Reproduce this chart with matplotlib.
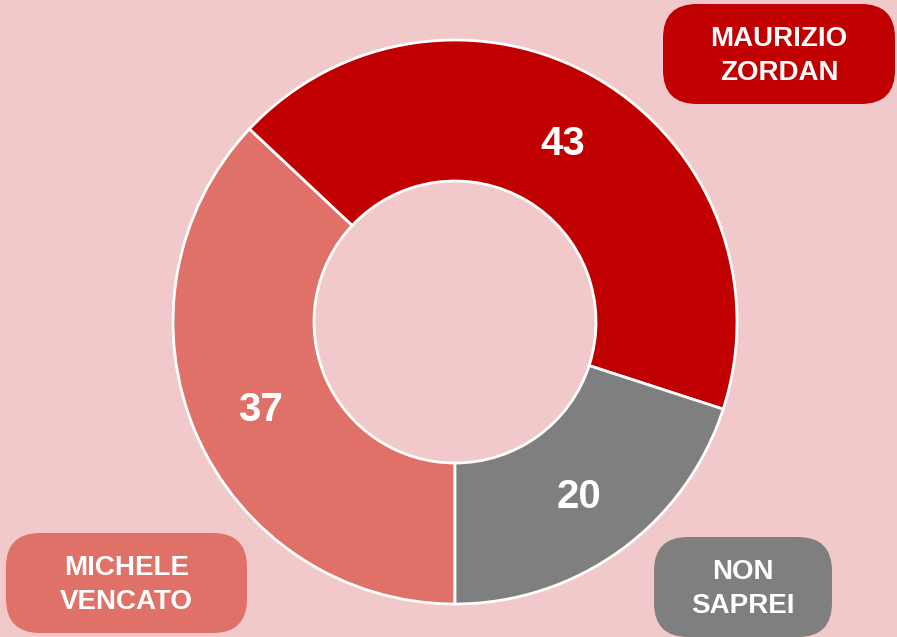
import numpy as np
import matplotlib.pyplot as plt
from matplotlib.patches import FancyBboxPatch

# data
names = ['MICHELE\nVENCATO', 'MAURIZIO\nZORDAN', 'NON\nSAPREI']
values = [37, 43, 20]
colors = ['#DF7169', '#C00000', '#7F7F7F']
bg = '#F2C9CA'

W, H = 897, 637
fig = plt.figure(figsize=(W / 100, H / 100), dpi=100, facecolor=bg)
ax = fig.add_axes([0, 0, 1, 1])

cx, cy, R = 455, H - 322, 282
wedges, _ = ax.pie(values, colors=colors, startangle=-90, counterclock=False,
                   center=(cx, cy), radius=R, frame=True,
                   wedgeprops=dict(width=R * 0.5, edgecolor='white', linewidth=2))
ax.set_xlim(0, W)
ax.set_ylim(0, H)
ax.set_aspect('equal')
ax.axis('off')

# value labels in the middle of the ring
for w, v in zip(wedges, values):
    ang = np.deg2rad((w.theta1 + w.theta2) / 2)
    r = R * 0.75
    ax.annotate(str(v), (cx + r * np.cos(ang), cy + r * np.sin(ang)),
                xytext=(0, -3), textcoords='offset points',
                ha='center', va='center', color='white', fontsize=29,
                fontweight='bold', family='Liberation Sans')

# rounded name boxes: (x0, y_top, x1, y_bottom) in pixels
boxes = [(6, 533, 247, 633), (663, 4, 895, 104), (654, 537, 832, 637)]
for (x0, y0, x1, y1), name, c in zip(boxes, names, colors):
    rad = 34
    p = FancyBboxPatch((x0 + rad, H - y1 + rad), x1 - x0 - 2 * rad, y1 - y0 - 2 * rad,
                       boxstyle='round,pad=%d,rounding_size=%d' % (rad, rad),
                       facecolor=c, edgecolor='none', clip_on=False)
    ax.add_patch(p)
    ax.annotate(name, ((x0 + x1) / 2, H - (y0 + y1) / 2),
                xytext=(0, -1.5), textcoords='offset points',
                ha='center', va='center', color='white', fontsize=20,
                fontweight='bold', linespacing=1.38, family='Liberation Sans')

fig.savefig('out.png', dpi=100, facecolor=bg)
